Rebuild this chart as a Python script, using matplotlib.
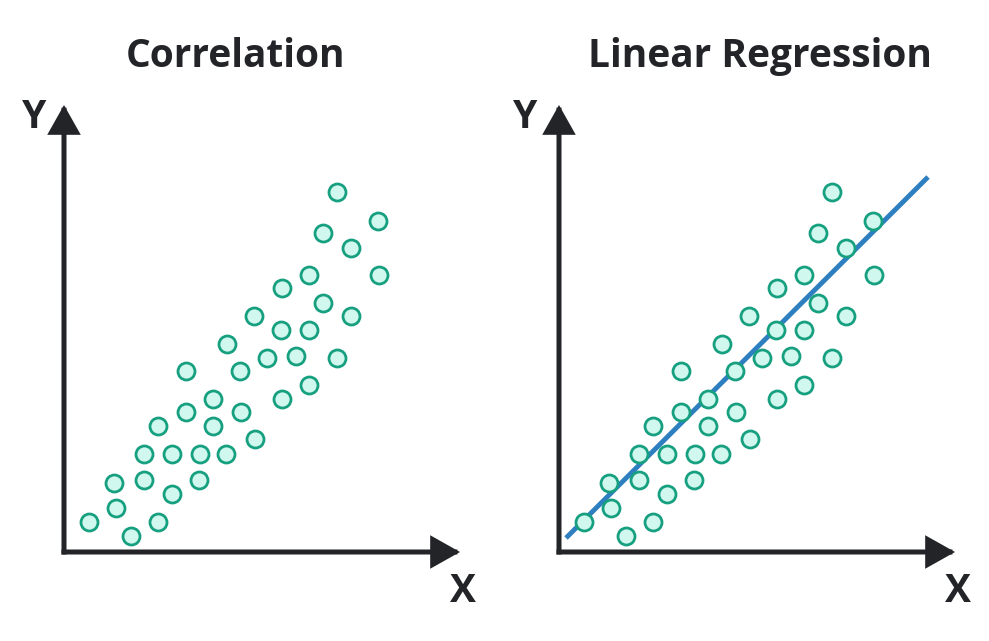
import matplotlib
matplotlib.use("Agg")
import matplotlib.pyplot as plt

# scatter points, same cloud in both panels (x, y measured from the axis corner)
pts_x = [273, 314, 259, 287, 245, 315, 218, 259, 287, 190, 217, 245, 163,
         203, 232, 273, 122, 176, 245, 218, 149, 122, 177, 94, 149, 191,
         80, 108, 136, 162, 50, 80, 135, 108, 52, 25, 94, 67]
pts_y = [360, 331, 319, 304, 277, 277, 264, 249, 236, 236, 222, 222, 208,
         194, 196, 194, 181, 181, 167, 153, 153, 140, 140, 126, 126, 113,
         98, 98, 98, 98, 69, 72, 72, 58, 44, 30, 30, 16]

# fitted line end points (right panel)
reg_x = [7, 369]
reg_y = [14, 375]

titles = ["Correlation", "Linear Regression"]
title_x = [172, 201]
ylab_x = [-30, -34]

dark = "#222428"
face = "#d1f8ee"
edge = "#17a080"
blue = "#2e7fbf"
font = "Open Sans"

W, H = 989, 641
fig = plt.figure(figsize=(W / 100, H / 100), dpi=100)

x_top = 396   # length of x axis arrow
y_top = 447   # length of y axis arrow

for i, left in enumerate([0, 495]):
    ax = fig.add_axes([left / W, 0, 494 / W, 1])
    ax.set_xlim(-64, 430)
    ax.set_ylim(-89, 552)
    ax.axis("off")

    arrow = dict(arrowstyle="-|>,head_length=1.6,head_width=0.9", lw=3.6,
                 color=dark, shrinkA=0, shrinkB=0, mutation_scale=10,
                 capstyle="projecting", joinstyle="miter")
    ax.annotate("", xy=(0, y_top), xytext=(0, 0), arrowprops=arrow)
    ax.annotate("", xy=(x_top, 0), xytext=(0, 0), arrowprops=arrow)

    ax.text(ylab_x[i], 424, "Y", fontsize=28, fontweight="bold", family=font,
            color=dark, ha="center", va="baseline")
    ax.text(399, -50, "X", fontsize=28, fontweight="bold", family=font,
            color=dark, ha="center", va="baseline")
    ax.text(title_x[i], 485, titles[i], fontsize=28, fontweight="bold",
            family=font, color=dark, ha="center", va="baseline")

    if i == 1:
        ax.plot(reg_x, reg_y, color=blue, lw=3.5, solid_capstyle="butt", zorder=2)

    ax.scatter(pts_x, pts_y, s=150, facecolor=face, edgecolor=edge,
               linewidth=2, zorder=3)

fig.savefig("out.png", dpi=100)
